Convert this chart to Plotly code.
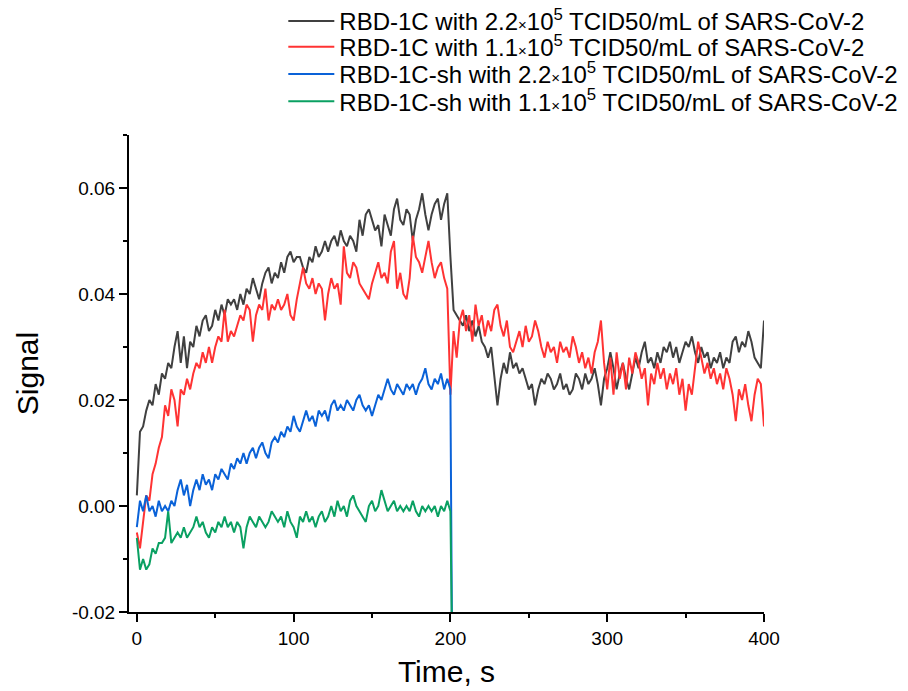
import plotly.graph_objects as go

# sample times (s)
t_assoc = list(range(0, 202, 2))
t_full = list(range(0, 402, 2))

# RBD-1C, 2.2e5 TCID50/mL (0..400 s)
black = [
    0.002, 0.014, 0.015, 0.018, 0.020, 0.019, 0.023, 0.021, 0.025, 0.024,
    0.027, 0.026, 0.030, 0.033, 0.027, 0.032, 0.026, 0.031, 0.030, 0.034,
    0.032, 0.035, 0.036, 0.033, 0.034, 0.037, 0.035, 0.038, 0.036, 0.039,
    0.038, 0.039, 0.037, 0.040, 0.038, 0.041, 0.040, 0.043, 0.041, 0.039,
    0.042, 0.044, 0.045, 0.042, 0.044, 0.043, 0.046, 0.044, 0.047, 0.048,
    0.046, 0.047, 0.047, 0.045, 0.044, 0.047, 0.046, 0.049, 0.047, 0.048,
    0.050, 0.048, 0.050, 0.051, 0.049, 0.052, 0.050, 0.049, 0.051, 0.050,
    0.048, 0.054, 0.051, 0.055, 0.056, 0.054, 0.052, 0.053, 0.049, 0.055,
    0.053, 0.051, 0.056, 0.058, 0.054, 0.053, 0.056, 0.055, 0.050, 0.054,
    0.056, 0.059, 0.055, 0.052, 0.055, 0.057, 0.058, 0.054, 0.057, 0.059,
    0.047,
    0.037, 0.036, 0.035, 0.034, 0.036, 0.033, 0.035, 0.032, 0.034, 0.031,
    0.030, 0.028, 0.030, 0.024, 0.019, 0.024, 0.027, 0.025, 0.029, 0.026,
    0.027, 0.025, 0.026, 0.024, 0.022, 0.023, 0.019, 0.022, 0.024, 0.023,
    0.025, 0.024, 0.022, 0.023, 0.025, 0.022, 0.023, 0.021, 0.022, 0.025,
    0.024, 0.022, 0.025, 0.023, 0.024, 0.026, 0.023, 0.019, 0.024, 0.026,
    0.029, 0.026, 0.022, 0.025, 0.027, 0.024, 0.022, 0.025, 0.028, 0.026,
    0.029, 0.031, 0.027, 0.028, 0.026, 0.029, 0.027, 0.030, 0.029, 0.031,
    0.028, 0.030, 0.027, 0.029, 0.031, 0.030, 0.032, 0.029, 0.027, 0.030,
    0.028, 0.029, 0.026, 0.028, 0.027, 0.029, 0.026, 0.028, 0.027, 0.031,
    0.032, 0.029, 0.031, 0.030, 0.033, 0.031, 0.028, 0.027, 0.026, 0.035,
]

# RBD-1C, 1.1e5 TCID50/mL (0..400 s)
red = [
    -0.005, -0.008, -0.003, 0.002, 0.001, 0.006, 0.008, 0.011, 0.013, 0.019,
    0.017, 0.022, 0.020, 0.015, 0.022, 0.021, 0.024, 0.022, 0.025, 0.027,
    0.026, 0.029, 0.027, 0.030, 0.027, 0.030, 0.032, 0.031, 0.037, 0.031,
    0.033, 0.032, 0.034, 0.036, 0.035, 0.038, 0.037, 0.031, 0.036, 0.038,
    0.037, 0.041, 0.035, 0.038, 0.037, 0.039, 0.037, 0.038, 0.040, 0.036,
    0.035, 0.039, 0.042, 0.045, 0.042, 0.041, 0.043, 0.040, 0.042, 0.041,
    0.035, 0.040, 0.043, 0.041, 0.042, 0.038, 0.049, 0.044, 0.043, 0.046,
    0.045, 0.042, 0.041, 0.040, 0.039, 0.042, 0.044, 0.046, 0.043, 0.044,
    0.042, 0.048, 0.050, 0.041, 0.044, 0.040, 0.039, 0.043, 0.051, 0.047,
    0.046, 0.044, 0.047, 0.050, 0.046, 0.043, 0.045, 0.046, 0.043, 0.041,
    0.021,
    0.033, 0.028, 0.035, 0.037, 0.033, 0.036, 0.031, 0.038, 0.034, 0.036,
    0.032, 0.035, 0.033, 0.037, 0.038, 0.034, 0.032, 0.035, 0.030, 0.029,
    0.031, 0.033, 0.030, 0.034, 0.031, 0.032, 0.035, 0.033, 0.030, 0.028,
    0.031, 0.029, 0.030, 0.027, 0.031, 0.029, 0.030, 0.028, 0.032, 0.030,
    0.027, 0.029, 0.026, 0.028, 0.025, 0.029, 0.031, 0.035, 0.027, 0.022,
    0.028, 0.021, 0.029, 0.024, 0.027, 0.022, 0.028, 0.025, 0.029, 0.027,
    0.024, 0.026, 0.019, 0.025, 0.023, 0.027, 0.024, 0.026, 0.022, 0.025,
    0.023, 0.026, 0.021, 0.024, 0.018, 0.023, 0.021, 0.026, 0.031, 0.028,
    0.025, 0.027, 0.024, 0.026, 0.023, 0.025, 0.022, 0.026, 0.024, 0.021,
    0.016, 0.022, 0.020, 0.023, 0.019, 0.016, 0.021, 0.024, 0.023, 0.015,
]

# RBD-1C-sh, 2.2e5 TCID50/mL (0..200 s)
blue = [
    -0.004, 0.001, -0.001, 0.002, -0.001, 0.000, -0.002, 0.001, -0.001, 0.000,
    -0.001, 0.001, 0.000, 0.003, 0.005, 0.002, 0.004, 0.000, 0.003, 0.005,
    0.003, 0.006, 0.004, 0.005, 0.003, 0.006, 0.005, 0.007, 0.006, 0.005,
    0.008, 0.007, 0.009, 0.008, 0.010, 0.008, 0.010, 0.011, 0.009, 0.011,
    0.012, 0.010, 0.009, 0.012, 0.013, 0.012, 0.014, 0.013, 0.015, 0.014,
    0.017, 0.015, 0.014, 0.016, 0.018, 0.016, 0.017, 0.015, 0.018, 0.017,
    0.018, 0.016, 0.019, 0.020, 0.018, 0.019, 0.018, 0.020, 0.019, 0.018,
    0.020, 0.021, 0.019, 0.018, 0.019, 0.017, 0.019, 0.021, 0.020, 0.022,
    0.024, 0.022, 0.021, 0.023, 0.022, 0.021, 0.023, 0.022, 0.023, 0.021,
    0.023, 0.024, 0.026, 0.023, 0.022, 0.024, 0.023, 0.025, 0.022, 0.024,
    0.022,
]

# RBD-1C-sh, 1.1e5 TCID50/mL (0..200 s)
green = [
    -0.006, -0.012, -0.010, -0.012, -0.011, -0.008, -0.009, -0.007, -0.007, -0.006,
    -0.001, -0.007, -0.006, -0.005, -0.006, -0.004, -0.006, -0.005, -0.004, -0.002,
    -0.004, -0.003, -0.005, -0.006, -0.004, -0.005, -0.003, -0.004, -0.002, -0.004,
    -0.003, -0.005, -0.003, -0.004, -0.008, -0.004, -0.002, -0.003, -0.004, -0.002,
    -0.003, -0.004, -0.003, -0.001, -0.002, -0.003, -0.002, -0.004, -0.001, -0.003,
    -0.004, -0.006, -0.002, -0.003, -0.001, -0.003, -0.002, -0.004, -0.002, -0.001,
    -0.003, -0.002, 0.000, -0.002, 0.001, -0.001, 0.000, -0.002, 0.001, 0.002,
    0.000, -0.001, -0.002, -0.003, 0.000, 0.001, -0.001, 0.000, 0.003, 0.001,
    -0.001, 0.000, 0.001, -0.001, 0.000, -0.001, 0.000, -0.001, 0.001, -0.001,
    -0.002, 0.000, -0.001, 0.000, -0.001, 0.000, -0.002, 0.000, -0.001, 0.001,
    -0.001,
]

# sensor drop after 200 s (goes off the bottom of the axis)
drop_t = [201]
drop_v = [-0.025]

times_sign = "<span style='font-size:15px'>×</span>"
names = [
    f"RBD-1C with 2.2{times_sign}10<sup>5</sup> TCID50/mL of SARS-CoV-2",
    f"RBD-1C with 1.1{times_sign}10<sup>5</sup> TCID50/mL of SARS-CoV-2",
    f"RBD-1C-sh with 2.2{times_sign}10<sup>5</sup> TCID50/mL of SARS-CoV-2",
    f"RBD-1C-sh with 1.1{times_sign}10<sup>5</sup> TCID50/mL of SARS-CoV-2",
]
colors = ["#404040", "#ff3333", "#0a62d8", "#0aa062"]

yticks = [-0.02, 0.0, 0.02, 0.04, 0.06]
yticktext = ["-0.02", "0.00", "0.02", "0.04", "0.06"]
xticks = [0, 100, 200, 300, 400]

fig = go.Figure()
fig.add_trace(go.Scatter(x=t_full, y=black, mode="lines", name=names[0], legend="legend",
                         line=dict(color=colors[0], width=2)))
fig.add_trace(go.Scatter(x=t_full, y=red, mode="lines", name=names[1], legend="legend2",
                         line=dict(color=colors[1], width=2)))
fig.add_trace(go.Scatter(x=t_assoc + drop_t, y=blue + drop_v, mode="lines", name=names[2],
                         legend="legend3", line=dict(color=colors[2], width=2)))
fig.add_trace(go.Scatter(x=t_assoc + drop_t, y=green + drop_v, mode="lines", name=names[3],
                         legend="legend4", line=dict(color=colors[3], width=2)))

axis_font = dict(family="Liberation Sans, Arial", size=19, color="black")


def legend_at(y):
    return dict(x=0.243, y=y, xanchor="left", yanchor="middle", itemwidth=46,
                font=dict(size=24, color="black"), bgcolor="rgba(0,0,0,0)")


# page body has an 8px margin, so the figure is shrunk and margins shifted by 8px
fig.update_layout(
    width=900, height=683,
    plot_bgcolor="white", paper_bgcolor="white",
    margin=dict(l=121, r=144, t=127, b=79, autoexpand=False),
    font=dict(family="Liberation Sans, Arial", color="black"),
    showlegend=True,
    legend=legend_at(1.238),
    legend2=legend_at(1.184),
    legend3=legend_at(1.127),
    legend4=legend_at(1.070),
    xaxis=dict(range=[-5, 400], tickvals=xticks, showgrid=False, zeroline=False,
               showline=True, linecolor="black", linewidth=2,
               ticks="outside", ticklen=8, tickwidth=2, tickcolor="black",
               tickfont=axis_font,
               minor=dict(dtick=50, tick0=0, ticks="outside", ticklen=4,
                          tickwidth=2, tickcolor="black", showgrid=False),
               title=dict(text="Time, s", font=dict(size=30, color="black"), standoff=13)),
    yaxis=dict(range=[-0.02, 0.07], tickvals=yticks, ticktext=yticktext,
               showgrid=False, zeroline=False,
               showline=True, linecolor="black", linewidth=2,
               ticks="outside", ticklen=8, tickwidth=2, tickcolor="black",
               tickfont=axis_font,
               minor=dict(dtick=0.01, tick0=0, ticks="outside", ticklen=4,
                          tickwidth=2, tickcolor="black", showgrid=False),
               title=dict(text="Signal", font=dict(size=30, color="black"), standoff=24)),
)

fig.write_html("out.html")
